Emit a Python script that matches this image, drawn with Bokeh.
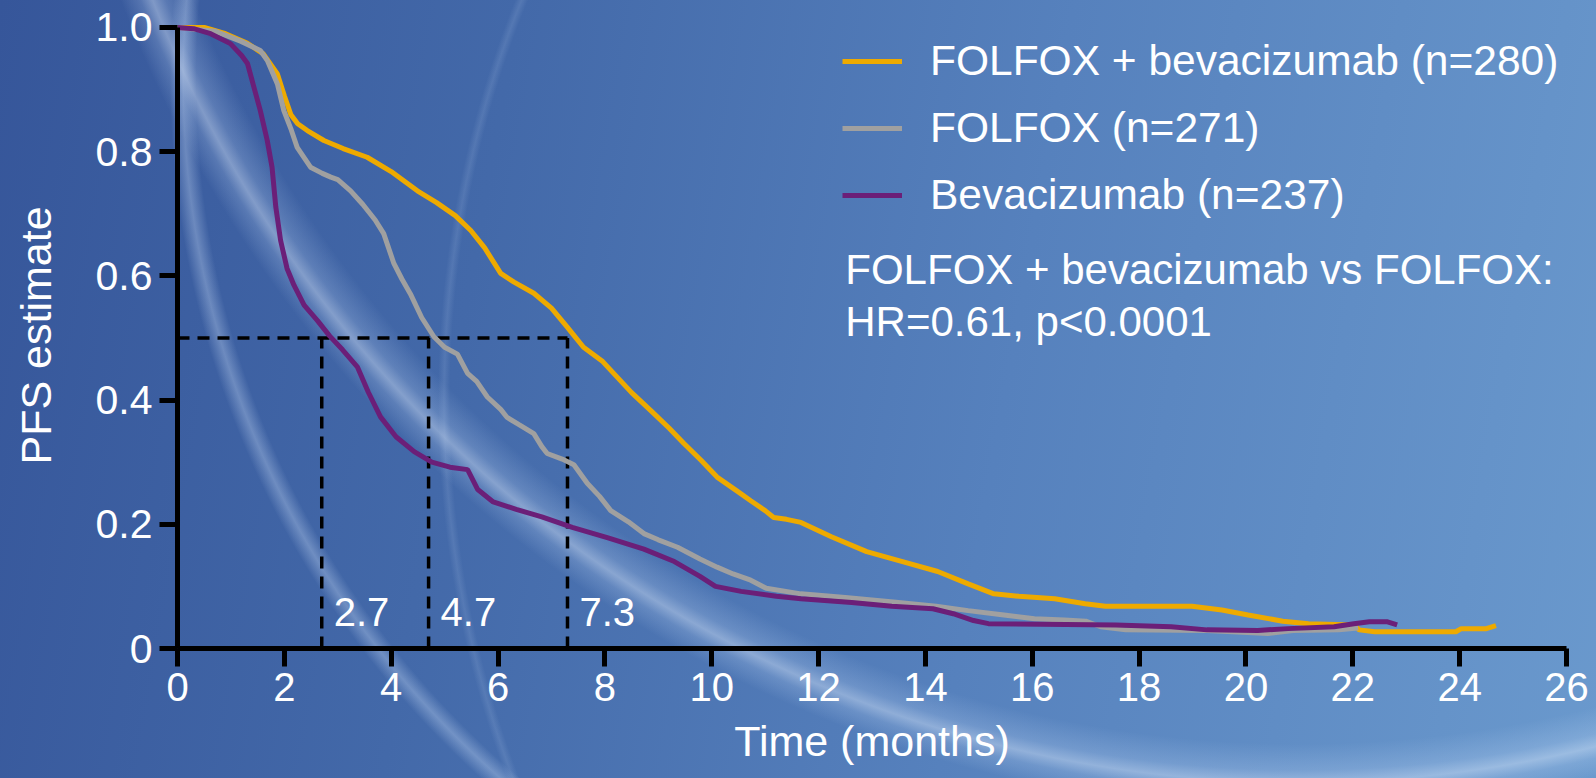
from bokeh.plotting import figure
from bokeh.models import Range1d, FixedTicker, Legend, LegendItem, Label, CustomJSTickFormatter
from bokeh.core.properties import value
from bokeh.embed import file_html
from bokeh.resources import INLINE

# Progression-free survival estimates (time in months, PFS probability)
folfox_bev_t = [0, 0.5, 0.9, 1.3, 1.6, 1.87, 2.0, 2.12, 2.25, 2.43, 2.74, 3.1, 3.55, 4.0, 4.49, 4.85,
                5.2, 5.49, 5.75, 6.05, 6.3, 6.67, 7.0, 7.3, 7.45, 7.6, 7.96, 8.23, 8.5, 8.86, 9.2, 9.48,
                9.8, 10.1, 10.45, 10.73, 11.0, 11.16, 11.4, 11.67, 12.24, 12.9, 13.57, 14.23, 14.8,
                15.28, 15.75, 16.42, 16.99, 17.37, 18.99, 19.55, 20.04, 20.69, 21.17, 22.02, 22.12,
                22.41, 23.93, 24.03, 24.5, 24.68]
folfox_bev_s = [1.0, 1.0, 0.99, 0.975, 0.958, 0.925, 0.89, 0.860, 0.845, 0.834, 0.818, 0.805, 0.791,
                0.768, 0.737, 0.718, 0.697, 0.673, 0.645, 0.604, 0.59, 0.572, 0.548, 0.517, 0.501,
                0.485, 0.462, 0.437, 0.412, 0.383, 0.355, 0.330, 0.303, 0.276, 0.255, 0.238, 0.222,
                0.211, 0.208, 0.203, 0.180, 0.156, 0.140, 0.124, 0.104, 0.088, 0.084, 0.080, 0.072,
                0.068, 0.068, 0.062, 0.054, 0.044, 0.040, 0.038, 0.030, 0.027, 0.027, 0.032, 0.032,
                0.037]

folfox_t = [0, 0.7, 1.18, 1.55, 1.68, 1.87, 1.99, 2.13, 2.24, 2.49, 2.71, 2.87, 3.0, 3.24, 3.47, 3.7,
            3.86, 4.05, 4.2, 4.36, 4.57, 4.8, 5.0, 5.24, 5.43, 5.6, 5.8, 6.05, 6.17, 6.4, 6.67, 6.82,
            6.92, 7.2, 7.42, 7.67, 7.9, 8.11, 8.44, 8.73, 9.0, 9.36, 9.78, 10.1, 10.4, 10.73, 11.02,
            11.67, 12.5, 13.4, 14.2, 14.8, 15.47, 16.04, 16.6, 17.0, 17.28, 17.75, 19.27, 20.41,
            20.88, 21.74, 22.1]
folfox_s = [1.0, 0.994, 0.978, 0.963, 0.947, 0.909, 0.866, 0.835, 0.807, 0.775, 0.765, 0.759, 0.755,
            0.737, 0.715, 0.69, 0.668, 0.62, 0.595, 0.571, 0.533, 0.502, 0.485, 0.474, 0.443, 0.43,
            0.405, 0.385, 0.372, 0.36, 0.346, 0.325, 0.314, 0.305, 0.296, 0.266, 0.245, 0.222, 0.204,
            0.185, 0.175, 0.163, 0.144, 0.131, 0.12, 0.110, 0.097, 0.088, 0.082, 0.075, 0.068, 0.061,
            0.054, 0.048, 0.046, 0.044, 0.035, 0.030, 0.029, 0.024, 0.029, 0.030, 0.033]

bev_t = [0, 0.3, 0.62, 0.99, 1.2, 1.31, 1.43, 1.55, 1.68, 1.77, 1.84, 1.93, 2.05, 2.18, 2.37, 2.62,
         2.85, 3.09, 3.37, 3.57, 3.80, 4.09, 4.43, 4.76, 5.10, 5.43, 5.62, 5.91, 6.34, 6.82, 7.39,
         8.06, 8.73, 9.30, 9.78, 10.07, 10.55, 11.21, 11.67, 12.62, 13.37, 14.14, 14.52, 14.90,
         15.18, 17.56, 18.6, 19.27, 20.22, 20.79, 21.65, 22.02, 22.31, 22.65, 22.83]
bev_s = [1.0, 0.998, 0.99, 0.974, 0.955, 0.942, 0.904, 0.866, 0.818, 0.775, 0.711, 0.657, 0.612,
         0.585, 0.553, 0.528, 0.503, 0.481, 0.453, 0.413, 0.373, 0.341, 0.317, 0.300, 0.292, 0.288,
         0.256, 0.236, 0.224, 0.212, 0.195, 0.178, 0.160, 0.140, 0.116, 0.100, 0.092, 0.084, 0.080,
         0.074, 0.068, 0.064, 0.056, 0.045, 0.040, 0.038, 0.035, 0.030, 0.029, 0.032, 0.035, 0.040,
         0.043, 0.043, 0.038]

# Median PFS per arm (months)
medians = [2.7, 4.7, 7.3]
median_labels = ["2.7", "4.7", "7.3"]
median_level = 0.5

series_names = ["FOLFOX + bevacizumab (n=280)", "FOLFOX (n=271)", "Bevacizumab (n=237)"]
series_colors = ["#eeaa00", "#a0a0a0", "#6b1f78"]
hr_lines = ["FOLFOX + bevacizumab vs FOLFOX:", "HR=0.61, p<0.0001"]

x_ticks = list(range(0, 27, 2))
y_ticks = [0, 0.2, 0.4, 0.6, 0.8, 1.0]

FONT = "Liberation Sans"

p = figure(width=1596, height=778, x_range=Range1d(0, 26), y_range=Range1d(0, 1.008),
           output_backend="svg", toolbar_location=None,
           min_border_left=177, min_border_right=30, min_border_top=22, min_border_bottom=130)
p.background_fill_color = None
p.border_fill_color = None
p.outline_line_color = None
p.grid.visible = False

# Blue backdrop with soft light streaks
bg_layers = [
    "radial-gradient(circle 1250px at 1300px -450px, rgba(200,222,250,0) 95.5%, "
    "rgba(200,222,250,0.22) 97.6%, rgba(225,238,255,0.42) 98.6%, rgba(200,222,250,0.2) 99.5%, "
    "rgba(200,222,250,0) 101%)",
    "radial-gradient(circle 940px at 1110px 80px, rgba(200,222,250,0) 97.2%, "
    "rgba(210,228,252,0.32) 98.6%, rgba(200,222,250,0) 100%)",
    "radial-gradient(ellipse 862px 968px at 1300px 400px, rgba(200,222,250,0) 98.6%, "
    "rgba(210,228,252,0.12) 99.3%, rgba(200,222,250,0) 100%)",
    "linear-gradient(100deg, #36569a 0%, #4369a9 30%, #5681bd 62%, #6a99cd 100%)",
]
p.styles = {"background-image": ", ".join(bg_layers)}

# Axes
for ax in (p.xaxis[0], p.yaxis[0]):
    ax.axis_line_color = "black"
    ax.axis_line_width = 5
    ax.major_tick_line_color = "black"
    ax.major_tick_line_width = 5
    ax.major_tick_out = 18
    ax.major_tick_in = 0
    ax.minor_tick_line_color = None
    ax.major_label_text_color = "white"
    ax.major_label_text_font = FONT
    ax.axis_label_text_color = "white"
    ax.axis_label_text_font = FONT
    ax.axis_label_text_font_size = "43px"
    ax.axis_label_text_font_style = "normal"

p.xaxis.major_label_text_font_size = "40px"
p.yaxis.major_label_text_font_size = "41px"
p.xaxis.bounds = (0, 26)
p.yaxis.bounds = (0, 1)
p.xaxis.ticker = FixedTicker(ticks=x_ticks)
p.yaxis.ticker = FixedTicker(ticks=y_ticks)
p.yaxis.formatter = CustomJSTickFormatter(code="return tick == 0 ? '0' : tick.toFixed(1);")
p.xaxis.axis_label = "Time (months)"
p.yaxis.axis_label = "PFS estimate"
p.xaxis.major_label_standoff = 6
p.yaxis.major_label_standoff = 7
p.xaxis.axis_label_standoff = 13
p.yaxis.axis_label_standoff = 33

# Median reference lines
p.segment(x0=[0], y0=[median_level], x1=[max(medians)], y1=[median_level],
          line_color="black", line_width=3.5, line_dash="12 8")
p.segment(x0=medians, y0=[0] * len(medians), x1=medians, y1=[median_level] * len(medians),
          line_color="black", line_width=3.5, line_dash="12 8")
p.text(x=medians, y=[0.058] * len(medians), text=median_labels, x_offset=12,
       text_color="white", text_font=value(FONT), text_font_size="40px",
       text_baseline="alphabetic", text_align="left")

# Survival curves
curves = [(folfox_bev_t, folfox_bev_s), (folfox_t, folfox_s), (bev_t, bev_s)]
renderers = []
for (t, s), color in zip(curves, series_colors):
    r = p.line(x=t, y=s, line_color=color, line_width=5)
    renderers.append(r)

legend = Legend(items=[LegendItem(label=name, renderers=[r]) for name, r in zip(series_names, renderers)],
                location=(665, 428), orientation="vertical",
                glyph_width=60, glyph_height=50, label_height=50, spacing=17, label_standoff=28,
                padding=0, margin=0, background_fill_alpha=0, border_line_alpha=0,
                label_text_color="white", label_text_font=FONT, label_text_font_size="42.5px")
p.add_layout(legend)

for line, yv in zip(hr_lines, [0.611, 0.527]):
    p.add_layout(Label(x=12.5, y=yv, text=line, text_color="white", text_font=FONT,
                       text_font_size="42px", text_baseline="alphabetic", text_align="left"))

open("out.html", "w").write(file_html(p, INLINE))
